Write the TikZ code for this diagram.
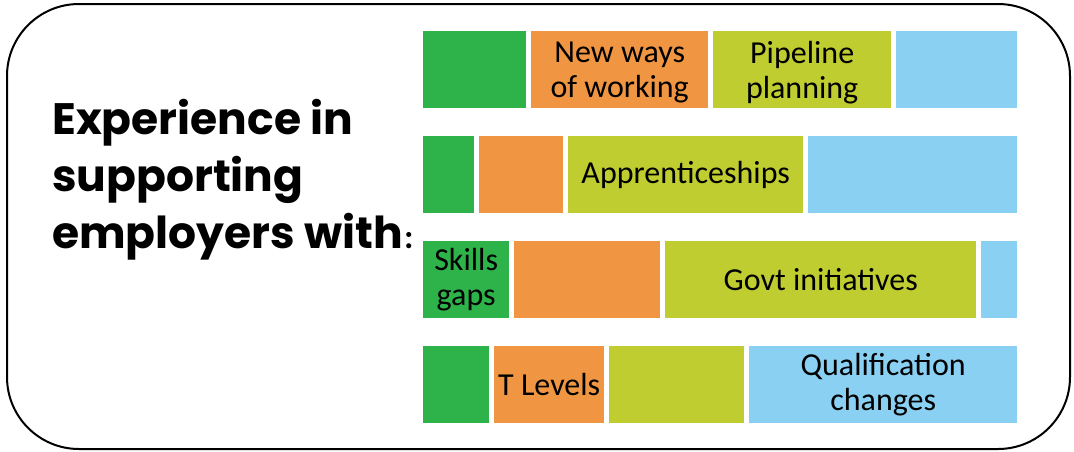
\documentclass[tikz,border=0pt]{standalone}
\usepackage{fontspec}
\setmainfont{Carlito}
\newfontfamily\headfont{Poppins}
\definecolor{cgreen}{HTML}{2DB34A}
\definecolor{corange}{HTML}{F09642}
\definecolor{clime}{HTML}{C0CD30}
\definecolor{cblue}{HTML}{89D0F2}
\tikzset{
  cell/.style={anchor=west, minimum height=77pt, inner sep=0pt, align=center,
    font=\fontsize{32}{35}\selectfont},
  grn/.style={cell, fill=cgreen},
  org/.style={cell, fill=corange},
  lim/.style={cell, fill=clime},
  blu/.style={cell, fill=cblue},
}
\begin{document}
\begin{tikzpicture}[x=1pt,y=-1pt]
\useasboundingbox (0,0) rectangle (1074,451);
\draw[line width=2pt, rounded corners=72pt] (7,4) rectangle (1070,449);
\node[anchor=west, align=left, inner sep=0pt,
  font=\headfont\bfseries\fontsize{44}{57}\selectfont] (head) at (52,180)
  {Experience in\\supporting\\employers with{\normalfont\bfseries\fontsize{34}{34}\selectfont\kern1pt:}};
% first row (text sits a little low)
\node[grn, minimum width=103pt] (G1) at (423,69.5) {};
\node[org, minimum width=177pt, text depth=-5pt] (O1) at (531,69.5) {New ways\\of working};
\node[lim, minimum width=178pt, text depth=-5pt] (L1) at (713,69.5) {Pipeline\\planning};
\node[blu, minimum width=121pt] (B1) at (896,69.5) {};
% second row
\node[grn, minimum width=51pt] (G2) at (423,174.5) {};
\node[org, minimum width=84pt] (O2) at (479,174.5) {};
\node[lim, minimum width=235pt] (L2) at (568,174.5) {Apprenticeships};
\node[blu, minimum width=209pt] (B2) at (808,174.5) {};
% third row
\node[grn, minimum width=86pt] (G3) at (423,279.5) {Skills\\gaps};
\node[org, minimum width=146pt] (O3) at (514,279.5) {};
\node[lim, minimum width=311pt] (L3) at (665,279.5) {Govt initiatives};
\node[blu, minimum width=36pt] (B3) at (981,279.5) {};
% fourth row
\node[grn, minimum width=66pt] (G4) at (423,384.5) {};
\node[org, minimum width=110pt] (O4) at (494,384.5) {T Levels};
\node[lim, minimum width=135pt] (L4) at (609,384.5) {};
\node[blu, minimum width=268pt] (B4) at (749,384.5) {Qualification\\changes};
\end{tikzpicture}
\end{document}
